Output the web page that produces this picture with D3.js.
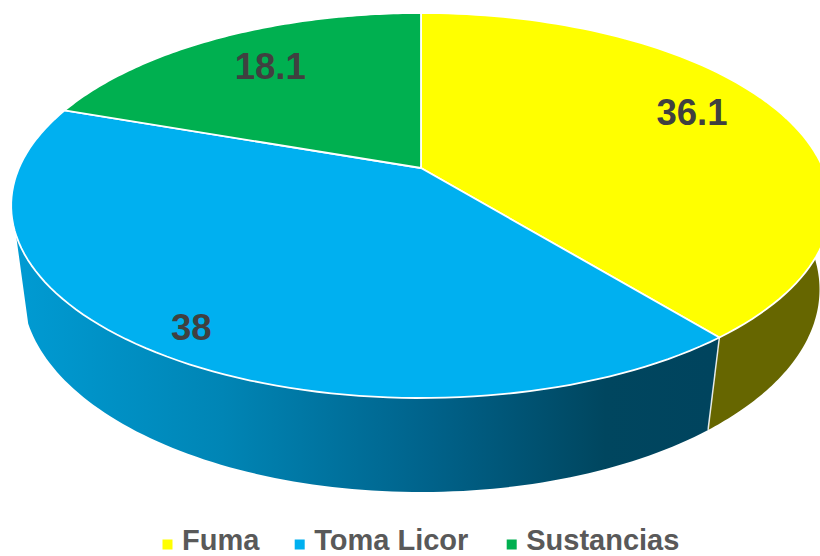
<!DOCTYPE html>
<html><head><meta charset="utf-8">
<script src="https://cdn.jsdelivr.net/npm/d3@7"></script>
<style>html,body{margin:0;padding:0;background:#fff}svg{display:block}</style>
</head><body><svg id="c" width="820" height="556"></svg>
<script>
const categories = ["Fuma", "Toma Licor", "Sustancias"];
const values = [36.1, 38, 18.1];
const colors = ["#FFFF00", "#00B0F0", "#00B050"];

// layout
const topRim = {cx:421, cy:168, a:402, b:185.2, k:-0.1948};
const botRim = {cx:421, cy:253, a:392, b:196, k:-0.18};
const labelRadius = [0.75, 0.88, 0.75];
const labelShift = [[0,-12],[7,4],[5,-1]];
const wallStart = Math.PI*0.47, wallEnd = Math.PI*1.39;

const svg = d3.select("#c");
const arcs = d3.pie().sort(null).value(d=>d)(values);

function project(rim, theta, rho=1){
  const X = rho*Math.sin(theta), Y = -rho*Math.cos(theta);
  const w = 1 + rim.k*Y;
  return [rim.cx + rim.a*X/w, rim.cy + rim.b*Y/w];
}
const line = d3.line();
function rimPts(rim, t0, t1){
  const n = 90;
  return d3.range(n+1).map(i=>project(rim, t0+(t1-t0)*i/n));
}

const defs = svg.append("defs");
const grad = defs.append("linearGradient").attr("id","blueWall")
  .attr("gradientUnits","userSpaceOnUse").attr("x1",14).attr("x2",710).attr("y1",0).attr("y2",0);
[[0,"#009BD3"],[0.3,"#0085B5"],[0.6,"#00628A"],[0.85,"#00465F"],[1,"#00445E"]]
  .forEach(s=>grad.append("stop").attr("offset",s[0]).attr("stop-color",s[1]));

// side walls
const wallData = [
  {t0:wallStart, t1:arcs[0].endAngle, fill:"#666600"},
  {t0:arcs[1].startAngle, t1:wallEnd, fill:"url(#blueWall)"}
];
svg.append("g").selectAll("path").data(wallData).join("path")
  .attr("d",d=>line(rimPts(topRim,d.t0,d.t1).concat(rimPts(botRim,d.t0,d.t1).reverse()))+"Z")
  .attr("fill",d=>d.fill);
// wall seam
svg.append("path")
  .attr("d",line([project(topRim,arcs[0].endAngle),project(botRim,arcs[0].endAngle)]))
  .attr("stroke","#fff").attr("stroke-width",1.5).attr("opacity",0.85).attr("fill","none");

// top faces
svg.append("g").selectAll("path").data(arcs).join("path")
  .attr("d",d=>line([[topRim.cx,topRim.cy]].concat(rimPts(topRim,d.startAngle,d.endAngle)))+"Z")
  .attr("fill",(d,i)=>colors[i])
  .attr("stroke","#fff").attr("stroke-width",1.8).attr("stroke-linejoin","round");

// value labels
svg.append("g").selectAll("text").data(arcs).join("text")
  .each(function(d,i){
    const p = project(topRim,(d.startAngle+d.endAngle)/2,labelRadius[i]);
    d3.select(this).attr("x",p[0]+labelShift[i][0]).attr("y",p[1]+labelShift[i][1]);
  })
  .attr("dy","0.35em").attr("text-anchor","middle")
  .attr("font-family","Liberation Sans").attr("font-weight","bold").attr("font-size",36.5)
  .attr("fill","#404040").text(d=>d.data);

// legend
const legendX = d3.scaleOrdinal().domain(categories).range([162.5, 294.7, 506.7]);
const lg = svg.append("g").selectAll("g").data(categories).join("g")
  .attr("transform",d=>`translate(${legendX(d)},539.5)`);
lg.append("rect").attr("width",10).attr("height",10).attr("fill",(d,i)=>colors[i]);
lg.append("text").attr("x",19.5).attr("y",10.5)
  .attr("font-family","Liberation Sans").attr("font-weight","bold").attr("font-size",29)
  .attr("fill","#595959").text(d=>d);
</script></body></html>
